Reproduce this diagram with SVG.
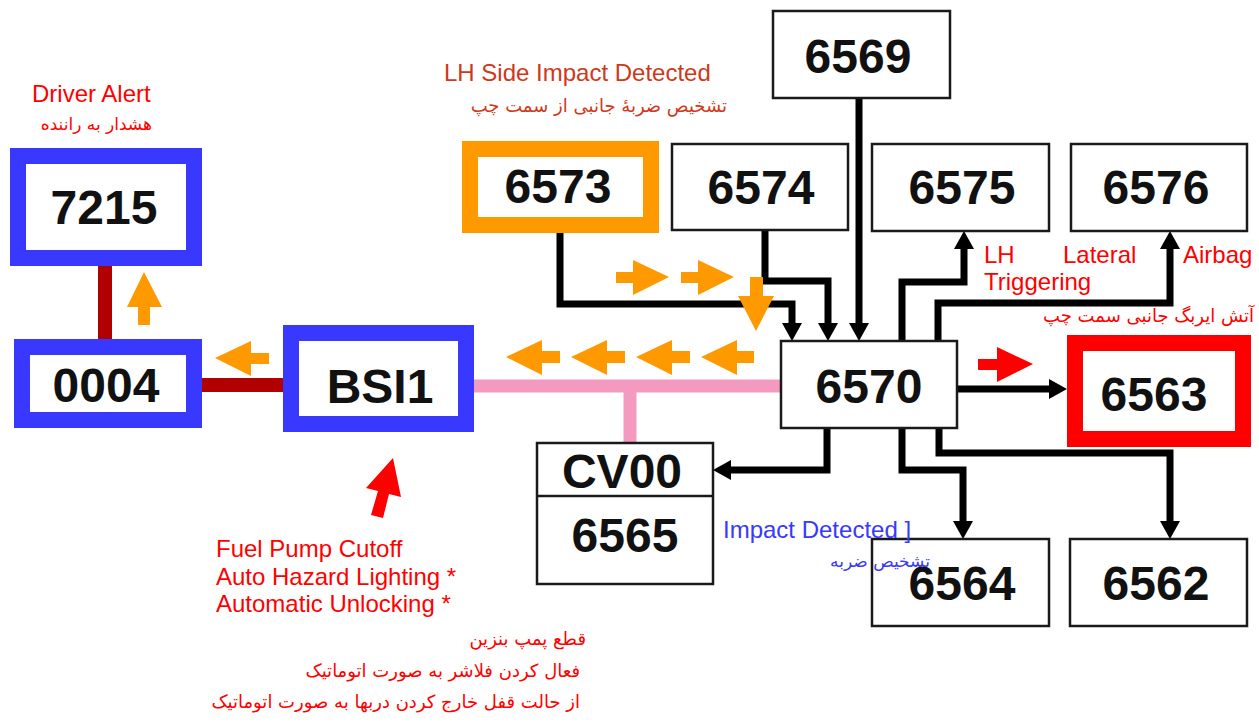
<svg xmlns="http://www.w3.org/2000/svg" width="1259" height="722" viewBox="0 0 1259 722">
<defs>
<style>
.bx{fill:#fff;stroke:#1a1a1a;stroke-width:2.5}
.bl{fill:#fff;stroke:#3838ff;stroke-width:16}
.or{fill:#fff;stroke:#ff9900;stroke-width:16}
.rd{fill:#fff;stroke:#ff0000;stroke-width:16}
.num{font-family:"Liberation Sans",Arial,sans-serif;font-weight:bold;font-size:48px;fill:#111;text-anchor:middle}
.en{font-family:"Liberation Sans",Arial,sans-serif;font-size:24px}
.fa{font-family:"DejaVu Sans","Noto Sans",sans-serif;font-size:17px;text-anchor:end}
.c{fill:none;stroke:#000;stroke-width:7;stroke-linejoin:miter}
.oa{fill:#ff9900}
</style>
<marker id="ah" viewBox="0 0 18 20" refX="0" refY="10" markerWidth="18" markerHeight="20" markerUnits="userSpaceOnUse" orient="auto">
<path d="M0,0 L18,10 L0,20 z" fill="#000"/>
</marker>
</defs>
<rect width="1259" height="722" fill="#fff"/>

<g id="buses">
<line x1="105" y1="266" x2="105" y2="339" stroke="#b00000" stroke-width="14"/>
<line x1="202" y1="385" x2="284" y2="385" stroke="#b00000" stroke-width="14"/>
<line x1="474" y1="386" x2="781" y2="386" stroke="#f49ac0" stroke-width="13"/>
<line x1="630" y1="386" x2="630" y2="443" stroke="#f49ac0" stroke-width="13"/>
</g>

<g id="connectors">
<path class="c" d="M560,233 V304 H792 V323" marker-end="url(#ah)"/>
<path class="c" d="M765,230 V281 H828 V323" marker-end="url(#ah)"/>
<path class="c" d="M859,98 V323" marker-end="url(#ah)"/>
<path class="c" d="M902,341 V282 H964 V249" marker-end="url(#ah)"/>
<path class="c" d="M938,341 V303 H1170 V249" marker-end="url(#ah)"/>
<path class="c" d="M957,389 H1049" marker-end="url(#ah)"/>
<path class="c" d="M827,428 V470 H731" marker-end="url(#ah)"/>
<path class="c" d="M902,428 V470 H963 V521" marker-end="url(#ah)"/>
<path class="c" d="M939,428 V453 H1170 V521" marker-end="url(#ah)"/>
</g>

<g id="n7215"><rect class="bl" x="18" y="156" width="176" height="102"/><text class="num" x="104" y="224">7215</text></g>
<g id="n0004"><rect class="bl" x="22" y="347" width="172" height="73"/><text class="num" x="106" y="402">0004</text></g>
<g id="nBSI1"><rect class="bl" x="291" y="333" width="175" height="91"/><text class="num" x="380" y="403">BSI1</text></g>
<g id="n6573"><rect class="or" x="470" y="149" width="181" height="76"/><text class="num" x="558" y="203">6573</text></g>
<g id="n6574"><rect class="bx" x="672" y="144" width="176" height="86"/><text class="num" x="761" y="204">6574</text></g>
<g id="n6569"><rect class="bx" x="773" y="11" width="177" height="87"/><text class="num" x="858" y="73">6569</text></g>
<g id="n6575"><rect class="bx" x="872" y="144" width="177" height="87"/><text class="num" x="962" y="204">6575</text></g>
<g id="n6576"><rect class="bx" x="1071" y="144" width="176" height="87"/><text class="num" x="1156" y="204">6576</text></g>
<g id="n6570"><rect class="bx" x="781" y="341" width="176" height="87"/><text class="num" x="869" y="403">6570</text></g>
<g id="n6563"><rect class="rd" x="1075" y="343" width="168" height="96"/><text class="num" x="1154" y="411">6563</text></g>
<g id="nCV00"><rect class="bx" x="537" y="443" width="176" height="141"/><line x1="537" y1="496" x2="713" y2="496" stroke="#1a1a1a" stroke-width="2.5"/><text class="num" x="622" y="488">CV00</text><text class="num" x="625" y="552">6565</text></g>
<g id="n6564"><rect class="bx" x="872" y="539" width="177" height="87"/><text class="num" x="962" y="600">6564</text></g>
<g id="n6562"><rect class="bx" x="1070" y="539" width="177" height="87"/><text class="num" x="1156" y="600">6562</text></g>

<g id="flow-arrows">
<polygon class="oa" points="144,272 162,307 150,307 150,325 138,325 138,307 127,307"/>
<polygon class="oa" points="215,358 251,341 251,353 269,353 269,364 251,364 251,376"/>
<polygon class="oa" points="506,357 542,340 542,351 560,351 560,363 542,363 542,375"/>
<polygon class="oa" points="571,357 607,340 607,351 625,351 625,363 607,363 607,375"/>
<polygon class="oa" points="636,357 672,340 672,351 690,351 690,363 672,363 672,375"/>
<polygon class="oa" points="701,357 737,340 737,351 754,351 754,363 737,363 737,375"/>
<polygon class="oa" points="669,277 633,260 633,272 616,272 616,283 633,283 633,295"/>
<polygon class="oa" points="734,277 698,260 698,272 681,272 681,283 698,283 698,295"/>
<polygon class="oa" points="756,331 738,296 750,296 750,277 763,277 763,296 774,296"/>
<polygon fill="#ff0000" points="1033,364 997,347 997,359 978,359 978,370 997,370 997,382"/>
<polygon fill="#ff0000" points="393,458 401,497 389,494 383,518 371,515 378,491 366,488"/>
</g>

<g id="labels">
<text class="en" x="32" y="102" fill="#ff0000">Driver Alert</text>
<text class="fa" x="152" y="130" fill="#ff0000">هشدار به راننده</text>
<text class="en" x="444" y="81" fill="#d0381a">LH Side Impact Detected</text>
<text class="fa" x="727" y="112" fill="#d0381a" style="font-size:18px">تشخیص ضربهٔ جانبی از سمت چپ</text>
<text class="en" x="984" y="263" fill="#ff0000">LH</text>
<text class="en" x="1063" y="263" fill="#ff0000">Lateral</text>
<text class="en" x="1183" y="263" fill="#ff0000">Airbag</text>
<text class="en" x="984" y="290" fill="#ff0000">Triggering</text>
<text class="fa" x="1254" y="322" fill="#ff0000" style="font-size:18px">آتش ایربگ جانبی سمت چپ</text>
<text class="en" x="216" y="557" fill="#ff0000">Fuel Pump Cutoff</text>
<text class="en" x="216" y="585" fill="#ff0000">Auto Hazard Lighting *</text>
<text class="en" x="216" y="612" fill="#ff0000">Automatic Unlocking *</text>
<text class="fa" x="586" y="645" fill="#ff0000" style="font-size:18px">قطع پمپ بنزین</text>
<text class="fa" x="580" y="677" fill="#ff0000" style="font-size:18px">فعال کردن فلاشر به صورت اتوماتیک</text>
<text class="fa" x="580" y="708" fill="#ff0000" style="font-size:18px">از حالت قفل خارج کردن دربها به صورت اتوماتیک</text>
<text class="en" x="723" y="538" fill="#3838ff">Impact Detected ]</text>
<text class="fa" x="930" y="567" fill="#3838ff">تشخیص ضربه</text>
</g>
</svg>
